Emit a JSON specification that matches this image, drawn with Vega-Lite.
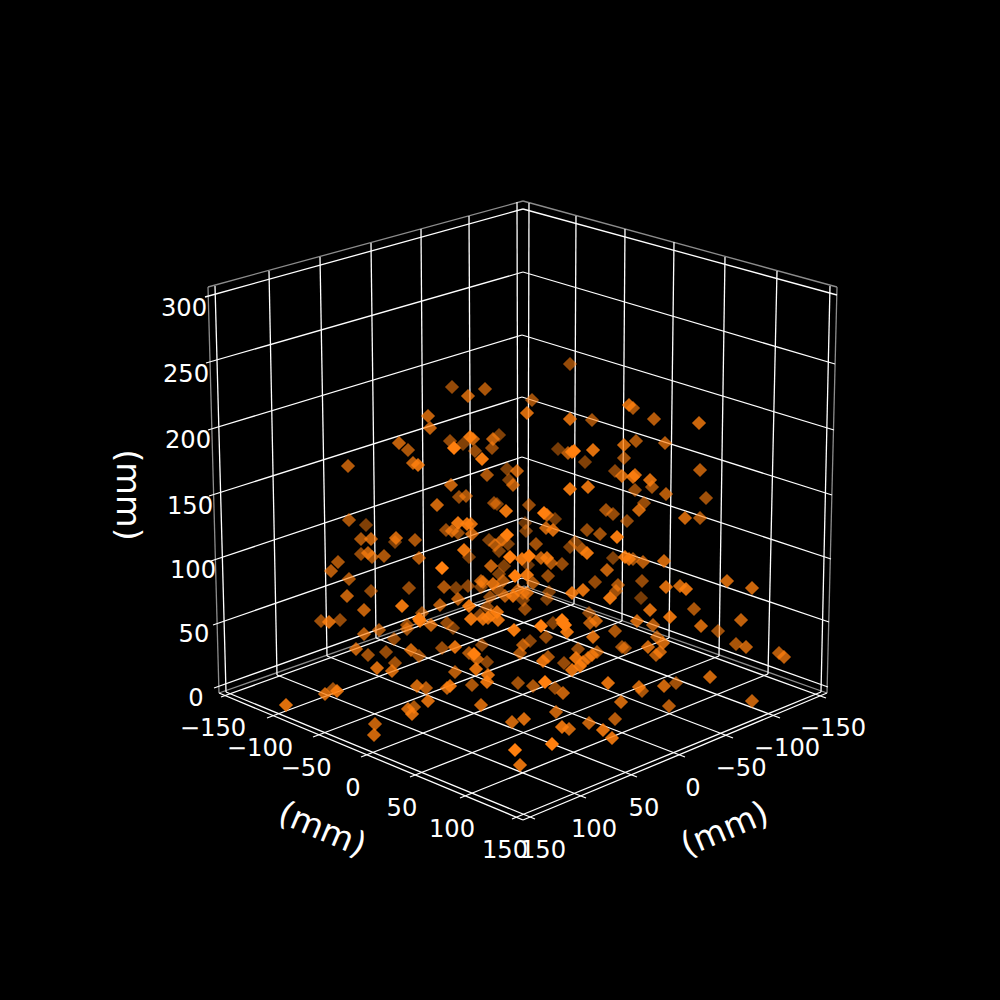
{
"$schema":"https://vega.github.io/schema/vega-lite/v6.json",
"width":1000,"height":1000,
"autosize":{"type":"fit","contains":"padding"},
"padding":0,
"background":"#000000",
"config":{"view":{"stroke":null},"text":{"font":"DejaVu Sans","color":"#ffffff"}},
"datasets":{
"grid":[
{"h":205,"v":297,"h2":523,"v2":209},{"h":523,"v":209,"h2":837,"v2":295},
{"h":206,"v":363,"h2":523,"v2":272},{"h":523,"v":272,"h2":835,"v2":364},
{"h":208,"v":430,"h2":522,"v2":335},{"h":522,"v":335,"h2":834,"v2":430},
{"h":209,"v":496,"h2":522,"v2":397},{"h":522,"v":397,"h2":832,"v2":495},
{"h":211,"v":561,"h2":522,"v2":457},{"h":522,"v":457,"h2":831,"v2":559},
{"h":213,"v":625,"h2":522,"v2":518},{"h":522,"v":518,"h2":829,"v2":622},
{"h":214,"v":688,"h2":522,"v2":578},{"h":522,"v":578,"h2":828,"v2":687},
{"h":215,"v":286,"h2":226,"v2":692},{"h":269,"v":271,"h2":277,"v2":675},
{"h":320,"v":257,"h2":327,"v2":656},{"h":371,"v":243,"h2":376,"v2":638},
{"h":421,"v":229,"h2":424,"v2":620},{"h":469,"v":216,"h2":471,"v2":603},
{"h":517,"v":202,"h2":518,"v2":586},
{"h":529,"v":203,"h2":528,"v2":587},{"h":576,"v":216,"h2":574,"v2":604},
{"h":625,"v":229,"h2":622,"v2":621},{"h":674,"v":242,"h2":669,"v2":638},
{"h":725,"v":257,"h2":719,"v2":656},{"h":777,"v":271,"h2":768,"v2":674},
{"h":830,"v":286,"h2":821,"v2":692},
{"h":518,"v":586,"h2":826,"v2":698},{"h":471,"v":603,"h2":780,"v2":718},
{"h":424,"v":620,"h2":733,"v2":738},{"h":376,"v":638,"h2":685,"v2":757},
{"h":327,"v":656,"h2":637,"v2":777},{"h":277,"v":675,"h2":586,"v2":798},
{"h":226,"v":692,"h2":535,"v2":819},
{"h":528,"v":587,"h2":221,"v2":697},{"h":574,"v":604,"h2":267,"v2":718},
{"h":622,"v":621,"h2":313,"v2":737},{"h":669,"v":638,"h2":361,"v2":757},
{"h":719,"v":656,"h2":410,"v2":777},{"h":768,"v":674,"h2":460,"v2":798},
{"h":821,"v":692,"h2":512,"v2":819},
{"h":219,"v":693,"h2":523,"v2":820},{"h":523,"v":820,"h2":827,"v2":693}
],
"panes":[
{"h":208,"v":287,"h2":523,"v2":201},{"h":523,"v":201,"h2":837,"v2":287},
{"h":208,"v":287,"h2":219,"v2":693},{"h":837,"v":287,"h2":827,"v2":693},
{"h":219,"v":693,"h2":524,"v2":586},{"h":524,"v":586,"h2":827,"v2":693}
],
"ticks":[
{"h":184,"v":307,"label":"300"},{"h":186,"v":373,"label":"250"},{"h":188,"v":439,"label":"200"},
{"h":190,"v":505,"label":"150"},{"h":193,"v":569,"label":"100"},{"h":194,"v":633,"label":"50"},{"h":196,"v":697,"label":"0"},
{"h":213,"v":727,"label":"−150"},{"h":260,"v":747,"label":"−100"},{"h":306,"v":767,"label":"−50"},
{"h":353,"v":787,"label":"0"},{"h":402,"v":807,"label":"50"},{"h":452,"v":828,"label":"100"},{"h":505,"v":849,"label":"150"},
{"h":833,"v":727,"label":"−150"},{"h":787,"v":747,"label":"−100"},{"h":741,"v":767,"label":"−50"},
{"h":693,"v":787,"label":"0"},{"h":644,"v":807,"label":"50"},{"h":594,"v":828,"label":"100"},{"h":543,"v":849,"label":"150"}
],
"points":[
{"h":452,"v":387,"depth":0.5},{"h":468,"v":396,"depth":0.7},{"h":485,"v":389,"depth":0.6},{"h":428,"v":416,"depth":0.7},{"h":430,"v":428,"depth":0.7},
{"h":399,"v":443,"depth":0.7},{"h":408,"v":450,"depth":0.6},{"h":413,"v":463,"depth":0.7},{"h":418,"v":465,"depth":0.85},{"h":348,"v":466,"depth":0.65},
{"h":450,"v":441,"depth":0.5},{"h":454,"v":448,"depth":1},{"h":463,"v":444,"depth":0.4},{"h":470,"v":437,"depth":0.9},{"h":473,"v":439,"depth":0.7},
{"h":475,"v":451,"depth":0.5},{"h":482,"v":459,"depth":0.95},{"h":493,"v":439,"depth":0.7},{"h":499,"v":435,"depth":0.4},{"h":492,"v":448,"depth":0.5},
{"h":507,"v":469,"depth":0.4},{"h":517,"v":471,"depth":0.7},{"h":487,"v":475,"depth":0.6},{"h":509,"v":480,"depth":0.4},{"h":513,"v":485,"depth":0.65},
{"h":451,"v":485,"depth":0.7},{"h":459,"v":497,"depth":0.5},{"h":466,"v":496,"depth":0.6},{"h":437,"v":505,"depth":0.75},{"h":494,"v":503,"depth":0.5},
{"h":497,"v":504,"depth":0.4},{"h":506,"v":511,"depth":0.9},{"h":349,"v":520,"depth":0.6},{"h":366,"v":525,"depth":0.4},{"h":361,"v":539,"depth":0.6},
{"h":371,"v":539,"depth":0.7},{"h":396,"v":538,"depth":0.75},{"h":395,"v":542,"depth":0.4},{"h":415,"v":540,"depth":0.6},{"h":446,"v":530,"depth":0.5},
{"h":452,"v":531,"depth":0.7},{"h":458,"v":523,"depth":0.9},{"h":458,"v":533,"depth":0.5},{"h":467,"v":524,"depth":0.9},{"h":471,"v":524,"depth":0.8},
{"h":472,"v":534,"depth":0.7},{"h":489,"v":540,"depth":0.4},{"h":495,"v":545,"depth":0.6},{"h":502,"v":540,"depth":0.7},{"h":507,"v":535,"depth":1},
{"h":508,"v":544,"depth":0.4},{"h":499,"v":551,"depth":0.4},{"h":464,"v":550,"depth":0.9},{"h":469,"v":557,"depth":0.4},{"h":361,"v":554,"depth":0.5},
{"h":368,"v":553,"depth":0.7},{"h":372,"v":557,"depth":0.6},{"h":384,"v":556,"depth":0.6},{"h":419,"v":558,"depth":0.65},{"h":338,"v":562,"depth":0.6},
{"h":331,"v":571,"depth":0.65},{"h":442,"v":568,"depth":1},{"h":510,"v":557,"depth":1},{"h":522,"v":559,"depth":0.9},{"h":529,"v":556,"depth":1},
{"h":491,"v":566,"depth":0.7},{"h":504,"v":566,"depth":0.4},
{"h":570,"v":364,"depth":0.5},{"h":532,"v":400,"depth":0.55},{"h":527,"v":413,"depth":0.8},{"h":629,"v":405,"depth":0.8},{"h":633,"v":408,"depth":0.6},
{"h":570,"v":419,"depth":0.8},{"h":592,"v":420,"depth":0.55},{"h":654,"v":419,"depth":0.65},{"h":699,"v":423,"depth":0.75},{"h":636,"v":441,"depth":0.6},
{"h":624,"v":445,"depth":0.75},{"h":665,"v":443,"depth":0.65},{"h":558,"v":449,"depth":0.35},{"h":568,"v":453,"depth":0.65},{"h":572,"v":452,"depth":0.9},
{"h":574,"v":451,"depth":1},{"h":593,"v":450,"depth":0.85},{"h":624,"v":458,"depth":0.55},{"h":585,"v":462,"depth":0.4},{"h":615,"v":471,"depth":0.45},
{"h":622,"v":476,"depth":0.75},{"h":633,"v":477,"depth":0.8},{"h":635,"v":475,"depth":0.8},{"h":650,"v":480,"depth":0.8},{"h":652,"v":487,"depth":0.55},
{"h":700,"v":470,"depth":0.65},{"h":570,"v":489,"depth":0.9},{"h":588,"v":487,"depth":0.85},{"h":635,"v":490,"depth":0.5},{"h":666,"v":494,"depth":0.65},
{"h":706,"v":498,"depth":0.55},{"h":644,"v":503,"depth":0.5},{"h":639,"v":510,"depth":0.75},{"h":529,"v":505,"depth":0.5},{"h":606,"v":510,"depth":0.55},
{"h":613,"v":514,"depth":0.5},{"h":544,"v":513,"depth":1},{"h":547,"v":515,"depth":0.7},{"h":555,"v":519,"depth":0.35},{"h":685,"v":518,"depth":0.75},
{"h":700,"v":518,"depth":0.6},{"h":627,"v":521,"depth":0.5},{"h":525,"v":523,"depth":0.3},{"h":526,"v":531,"depth":0.4},{"h":546,"v":528,"depth":0.7},
{"h":553,"v":530,"depth":0.8},{"h":587,"v":530,"depth":0.5},{"h":600,"v":534,"depth":0.55},{"h":617,"v":537,"depth":0.95},{"h":536,"v":544,"depth":0.55},
{"h":575,"v":542,"depth":0.4},{"h":570,"v":547,"depth":0.4},{"h":582,"v":549,"depth":0.6},{"h":587,"v":553,"depth":0.9},{"h":613,"v":558,"depth":0.4},
{"h":625,"v":557,"depth":0.85},{"h":629,"v":559,"depth":0.8},{"h":633,"v":559,"depth":0.55},{"h":643,"v":562,"depth":0.65},{"h":664,"v":561,"depth":0.75},
{"h":562,"v":564,"depth":0.5},{"h":551,"v":563,"depth":0.6},{"h":547,"v":558,"depth":0.85},{"h":541,"v":558,"depth":0.7},{"h":607,"v":570,"depth":0.7},
{"h":528,"v":565,"depth":0.3},
{"h":349,"v":579,"depth":0.6},{"h":347,"v":596,"depth":0.7},{"h":371,"v":591,"depth":0.5},{"h":364,"v":610,"depth":0.7},{"h":321,"v":621,"depth":0.55},
{"h":329,"v":622,"depth":0.8},{"h":340,"v":620,"depth":0.5},{"h":409,"v":588,"depth":0.5},{"h":402,"v":606,"depth":0.9},{"h":444,"v":587,"depth":0.6},
{"h":456,"v":588,"depth":0.4},{"h":468,"v":586,"depth":0.45},{"h":440,"v":605,"depth":0.65},{"h":458,"v":599,"depth":0.65},{"h":469,"v":606,"depth":0.9},
{"h":481,"v":581,"depth":0.65},{"h":483,"v":582,"depth":0.6},{"h":481,"v":587,"depth":0.4},{"h":493,"v":584,"depth":0.8},{"h":503,"v":581,"depth":0.6},
{"h":499,"v":574,"depth":0.4},{"h":515,"v":576,"depth":1},{"h":527,"v":575,"depth":0.9},{"h":490,"v":597,"depth":0.5},{"h":498,"v":590,"depth":0.5},
{"h":505,"v":596,"depth":0.65},{"h":513,"v":596,"depth":0.85},{"h":518,"v":590,"depth":0.65},{"h":525,"v":609,"depth":0.5},{"h":527,"v":593,"depth":0.7},
{"h":487,"v":607,"depth":0.5},{"h":480,"v":615,"depth":0.45},{"h":471,"v":619,"depth":0.9},{"h":483,"v":619,"depth":0.8},{"h":488,"v":618,"depth":0.75},
{"h":491,"v":615,"depth":0.7},{"h":497,"v":612,"depth":0.85},{"h":498,"v":620,"depth":0.85},{"h":422,"v":613,"depth":0.5},{"h":419,"v":619,"depth":1},
{"h":420,"v":621,"depth":0.9},{"h":431,"v":625,"depth":0.7},{"h":447,"v":623,"depth":0.5},{"h":453,"v":628,"depth":0.4},{"h":407,"v":625,"depth":0.5},
{"h":407,"v":629,"depth":0.55},{"h":379,"v":630,"depth":0.6},{"h":364,"v":634,"depth":0.65},{"h":394,"v":639,"depth":0.5},{"h":356,"v":649,"depth":0.7},
{"h":368,"v":655,"depth":0.55},{"h":386,"v":652,"depth":0.5},{"h":411,"v":650,"depth":0.75},{"h":419,"v":656,"depth":0.55},{"h":442,"v":648,"depth":0.5},
{"h":455,"v":647,"depth":0.85},{"h":469,"v":653,"depth":0.6},{"h":482,"v":645,"depth":0.45},{"h":514,"v":630,"depth":0.95},{"h":523,"v":645,"depth":0.65},
{"h":520,"v":653,"depth":0.6},{"h":474,"v":654,"depth":1},{"h":477,"v":659,"depth":0.7},{"h":487,"v":662,"depth":0.45},{"h":476,"v":669,"depth":0.85},
{"h":395,"v":663,"depth":0.55},{"h":377,"v":668,"depth":0.8},{"h":392,"v":671,"depth":0.75},{"h":455,"v":672,"depth":0.65},{"h":488,"v":675,"depth":0.85},
{"h":487,"v":682,"depth":0.85},{"h":472,"v":685,"depth":0.6},{"h":518,"v":683,"depth":0.55},{"h":417,"v":686,"depth":0.75},{"h":426,"v":688,"depth":0.65},
{"h":450,"v":686,"depth":0.85},{"h":447,"v":688,"depth":0.7},{"h":325,"v":694,"depth":0.75},{"h":333,"v":689,"depth":0.55},{"h":337,"v":691,"depth":0.85},
{"h":286,"v":705,"depth":0.85},{"h":428,"v":701,"depth":0.8},{"h":481,"v":705,"depth":0.75},{"h":414,"v":707,"depth":0.6},{"h":408,"v":709,"depth":0.75},
{"h":412,"v":714,"depth":0.8},{"h":512,"v":722,"depth":0.75},{"h":524,"v":719,"depth":0.8},{"h":375,"v":724,"depth":0.7},{"h":374,"v":735,"depth":0.75},
{"h":515,"v":750,"depth":1},{"h":520,"v":765,"depth":0.85},
{"h":595,"v":582,"depth":0.5},{"h":642,"v":581,"depth":0.5},{"h":666,"v":587,"depth":0.8},{"h":680,"v":586,"depth":0.75},{"h":686,"v":589,"depth":0.85},
{"h":727,"v":581,"depth":0.75},{"h":752,"v":588,"depth":0.75},{"h":548,"v":576,"depth":0.5},{"h":533,"v":583,"depth":0.6},{"h":572,"v":593,"depth":0.85},
{"h":583,"v":590,"depth":0.85},{"h":618,"v":585,"depth":0.6},{"h":616,"v":591,"depth":0.55},{"h":610,"v":598,"depth":0.9},{"h":641,"v":598,"depth":0.35},
{"h":549,"v":592,"depth":0.4},{"h":547,"v":599,"depth":0.4},{"h":523,"v":593,"depth":0.5},{"h":523,"v":600,"depth":0.4},{"h":650,"v":610,"depth":0.8},
{"h":694,"v":609,"depth":0.6},{"h":670,"v":617,"depth":0.85},{"h":589,"v":613,"depth":0.45},{"h":590,"v":623,"depth":0.65},{"h":596,"v":621,"depth":0.75},
{"h":637,"v":621,"depth":0.75},{"h":653,"v":625,"depth":0.65},{"h":701,"v":626,"depth":0.75},{"h":741,"v":620,"depth":0.7},{"h":718,"v":631,"depth":0.55},
{"h":553,"v":623,"depth":0.4},{"h":541,"v":626,"depth":1},{"h":563,"v":623,"depth":1},{"h":562,"v":620,"depth":1},{"h":567,"v":632,"depth":0.9},
{"h":565,"v":625,"depth":1},{"h":546,"v":637,"depth":0.5},{"h":530,"v":641,"depth":0.45},{"h":593,"v":637,"depth":0.8},{"h":615,"v":631,"depth":0.6},
{"h":622,"v":647,"depth":0.55},{"h":625,"v":648,"depth":0.5},{"h":657,"v":637,"depth":0.6},{"h":663,"v":643,"depth":0.75},{"h":648,"v":647,"depth":0.75},
{"h":660,"v":652,"depth":0.7},{"h":656,"v":655,"depth":0.65},{"h":736,"v":644,"depth":0.6},{"h":746,"v":647,"depth":0.7},{"h":779,"v":653,"depth":0.65},
{"h":784,"v":657,"depth":0.7},{"h":578,"v":649,"depth":0.5},{"h":597,"v":652,"depth":0.6},{"h":592,"v":655,"depth":0.75},{"h":588,"v":658,"depth":0.65},
{"h":583,"v":662,"depth":0.7},{"h":576,"v":658,"depth":0.85},{"h":580,"v":666,"depth":0.85},{"h":572,"v":670,"depth":0.85},{"h":564,"v":663,"depth":0.5},
{"h":548,"v":657,"depth":0.6},{"h":543,"v":661,"depth":0.85},{"h":710,"v":677,"depth":0.75},{"h":676,"v":683,"depth":0.55},{"h":664,"v":686,"depth":0.75},
{"h":639,"v":687,"depth":0.75},{"h":642,"v":691,"depth":0.6},{"h":608,"v":683,"depth":0.85},{"h":545,"v":682,"depth":1},{"h":533,"v":686,"depth":0.6},
{"h":555,"v":688,"depth":0.5},{"h":563,"v":693,"depth":0.7},{"h":669,"v":706,"depth":0.65},{"h":752,"v":701,"depth":0.7},{"h":621,"v":702,"depth":0.75},
{"h":556,"v":712,"depth":0.7},{"h":615,"v":719,"depth":0.65},{"h":589,"v":723,"depth":0.7},{"h":562,"v":727,"depth":0.85},{"h":569,"v":729,"depth":0.75},
{"h":603,"v":730,"depth":0.85},{"h":612,"v":738,"depth":0.85},{"h":552,"v":744,"depth":1}
]
},
"encoding":{
"x":{"field":"h","type":"quantitative","axis":null,"scale":{"domain":[0,1000],"nice":false}},
"y":{"field":"v","type":"quantitative","axis":null,"scale":{"domain":[1000,0],"nice":false}}
},
"layer":[
{
"data":{"name":"panes"},
"mark":{"type":"rule","color":"#8c8c8c","strokeWidth":1.3},
"encoding":{"x2":{"field":"h2"},"y2":{"field":"v2"}}
},
{
"data":{"name":"grid"},
"mark":{"type":"rule","color":"#ffffff","strokeWidth":1.3},
"encoding":{"x2":{"field":"h2"},"y2":{"field":"v2"}}
},
{
"data":{"name":"points"},
"mark":{"type":"point","shape":"diamond","filled":true,"size":200,"color":"#ff7f0e"},
"encoding":{
"opacity":{"field":"depth","type":"quantitative","legend":null,"scale":{"domain":[0.3,1],"range":[0.42,1]}},
"order":{"field":"depth","type":"quantitative"}
}
},
{
"data":{"name":"ticks"},
"mark":{"type":"text","fontSize":24.2,"align":"center","baseline":"middle","dy":2},
"encoding":{"text":{"field":"label","type":"nominal"}}
},
{
"data":{"values":[{"h":322,"v":830,"label":"(mm)"}]},
"mark":{"type":"text","fontSize":33.5,"align":"center","baseline":"middle","angle":23},
"encoding":{"text":{"field":"label","type":"nominal"}}
},
{
"data":{"values":[{"h":725,"v":830,"label":"(mm)"}]},
"mark":{"type":"text","fontSize":33.5,"align":"center","baseline":"middle","angle":-23},
"encoding":{"text":{"field":"label","type":"nominal"}}
},
{
"data":{"values":[{"h":127,"v":495,"label":"(mm)"}]},
"mark":{"type":"text","fontSize":33.5,"align":"center","baseline":"middle","angle":90},
"encoding":{"text":{"field":"label","type":"nominal"}}
}
]
}
